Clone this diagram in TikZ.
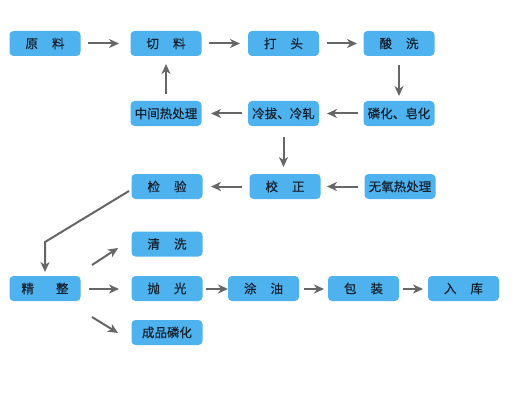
\documentclass[tikz,border=0pt]{standalone}
\usepackage{fontspec}
\newfontfamily\cjk{Noto Sans CJK SC}[FakeBold=0.6]
\usetikzlibrary{arrows.meta}
\definecolor{boxblue}{HTML}{4DB2EE}
\definecolor{txt}{HTML}{17212E}
\definecolor{arr}{HTML}{666666}
\begin{document}
\begin{tikzpicture}[x=1pt,y=-1pt,
  pbox/.style={fill=boxblue,rounded corners=4pt,minimum width=71pt,minimum height=25pt,inner sep=0pt,font=\cjk\fontsize{12.5pt}{14pt}\selectfont,text=txt},
  flow/.style={draw=arr,line width=2pt,-{Stealth[length=10pt,width=9pt,inset=3pt]}}]
\useasboundingbox (0,0) rectangle (516,417);
% row 1
\node[pbox] (yl) at (45,43.5) {原\hspace{14pt}料};
\node[pbox] (ql) at (166,43.5) {切\hspace{14pt}料};
\node[pbox] (dt) at (283.5,43.5) {打\hspace{14pt}头};
\node[pbox] (sx) at (399,43.5) {酸\hspace{14pt}洗};
% row 2
\node[pbox] (zj) at (166,113.5) {中间热处理};
\node[pbox] (lb) at (283.5,113.5) {冷拔、冷轧};
\node[pbox] (lh) at (399,113.5) {磷化、皂化};
% row 3
\node[pbox] (jy) at (167,186.5) {检\hspace{14pt}验};
\node[pbox] (xz) at (285,186.5) {校\hspace{14pt}正};
\node[pbox] (wy) at (400,186.5) {无氧热处理};
% rows 4-6
\node[pbox] (qx) at (167,244) {清\hspace{14pt}洗};
\node[pbox] (jz) at (45,288.5) {精\hspace{22pt}整};
\node[pbox] (pg) at (167,288.5) {抛\hspace{14pt}光};
\node[pbox] (ty) at (263.5,288.5) {涂\hspace{14pt}油};
\node[pbox] (bz) at (363.5,288.5) {包\hspace{14pt}装};
\node[pbox] (rk) at (463.5,288.5) {入\hspace{14pt}库};
\node[pbox] (cp) at (167,332.5) {成品磷化};
% arrows
\coordinate (a1) at (88,43.5); \coordinate (a2) at (119,43.5);
\draw[flow] (a1) -- (a2);
\coordinate (b1) at (209,43.5); \coordinate (b2) at (240,43.5);
\draw[flow] (b1) -- (b2);
\coordinate (c1) at (327,43.5); \coordinate (c2) at (357,43.5);
\draw[flow] (c1) -- (c2);
\coordinate (d1) at (399,65); \coordinate (d2) at (399,96);
\draw[flow] (d1) -- (d2);
\coordinate (e1) at (358,113.5); \coordinate (e2) at (327,113.5);
\draw[flow] (e1) -- (e2);
\coordinate (f1) at (242,113.5); \coordinate (f2) at (211,113.5);
\draw[flow] (f1) -- (f2);
\coordinate (g1) at (166,94); \coordinate (g2) at (166,64);
\draw[flow] (g1) -- (g2);
\coordinate (h1) at (283.5,137); \coordinate (h2) at (283.5,167);
\draw[flow] (h1) -- (h2);
\coordinate (i1) at (358,186.5); \coordinate (i2) at (327,186.5);
\draw[flow] (i1) -- (i2);
\coordinate (j1) at (242,186.5); \coordinate (j2) at (211,186.5);
\draw[flow] (j1) -- (j2);
\coordinate (k1) at (129,191); \coordinate (k2) at (45,242); \coordinate (k3) at (45,272);
\draw[flow] (k1) -- (k2) -- (k3);
\coordinate (l1) at (92,265); \coordinate (l2) at (118,248);
\draw[flow] (l1) -- (l2);
\coordinate (m1) at (89,289); \coordinate (m2) at (119,289);
\draw[flow] (m1) -- (m2);
\coordinate (n1) at (92,317); \coordinate (n2) at (118,333);
\draw[flow] (n1) -- (n2);
\coordinate (o1) at (206,289); \coordinate (o2) at (228,289);
\draw[flow] (o1) -- (o2);
\coordinate (p1) at (304,289); \coordinate (p2) at (324,289);
\draw[flow] (p1) -- (p2);
\coordinate (q1) at (403,289); \coordinate (q2) at (423,289);
\draw[flow] (q1) -- (q2);
\end{tikzpicture}
\end{document}
